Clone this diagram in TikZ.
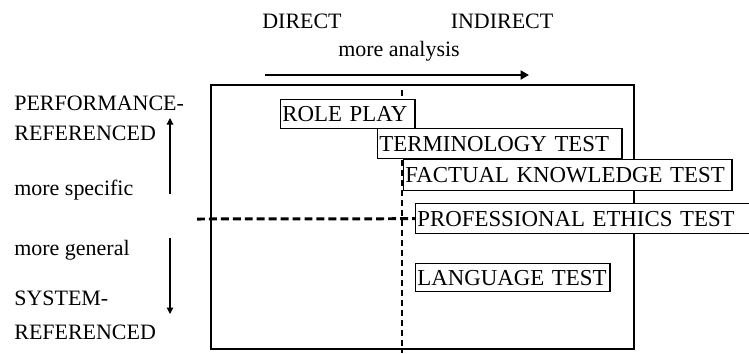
\documentclass[tikz,border=0pt]{standalone}
\usepackage{fontspec}
\setmainfont{Liberation Serif}
\usetikzlibrary{arrows.meta}

\newcommand{\labelfont}{\fontsize{12.5}{14}\selectfont}
\newcommand{\boxfont}{\fontsize{13}{15}\selectfont}

\tikzset{
    testbox/.style={draw, fill=white, line width=0.8pt, anchor=north west,
        inner xsep=1pt, inner ysep=0pt, align=left, font=\boxfont,
        text width=#1},
    sidelabel/.style={anchor=west, inner sep=0pt, font=\labelfont},
    toplabel/.style={inner sep=0pt, font=\labelfont}
}

\begin{document}
\begin{tikzpicture}[x=0.02cm, y=-0.02cm]
            \clip ( 0, 0 ) rectangle ( 749, 353 );

            % подписи сверху
            \node [toplabel] (direct) at ( 302, 21 ) {DIRECT};
            \node [toplabel] (indirect) at ( 502, 21 ) {INDIRECT};
            \node [toplabel] (analysis) at ( 399, 51 ) {more analysis};
            \coordinate (a1) at ( 265, 75 );
            \coordinate (a2) at ( 529, 75 );
            \draw [line width=1.6pt, -{Triangle[length=0.17cm, width=0.18cm]}] (a1) -- (a2);

            % подписи слева
            \node [sidelabel] (perf) at ( 14, 103 ) {PERFORMANCE-};
            \node [sidelabel] (perfref) at ( 14, 133 ) {REFERENCED};
            \node [sidelabel] (specific) at ( 14, 190 ) {more specific};
            \node [sidelabel] (general) at ( 14, 250 ) {more general};
            \node [sidelabel] (sys) at ( 14, 298 ) {SYSTEM-};
            \node [sidelabel] (sysref) at ( 14, 332 ) {REFERENCED};
            \coordinate (u1) at ( 170, 194 );
            \coordinate (u2) at ( 170, 118 );
            \coordinate (d1) at ( 170, 238 );
            \coordinate (d2) at ( 170, 314 );
            \draw [line width=0.7pt, -{Triangle[length=0.13cm, width=0.13cm]}] (u1) -- (u2);
            \draw [line width=0.7pt, -{Triangle[length=0.13cm, width=0.13cm]}] (d1) -- (d2);

            % рамка
            \draw [line width=0.8pt] ( 211, 85 ) rectangle ( 634, 349 );

            % штриховые линии
            \coordinate (v1) at ( 402, 90 );
            \coordinate (v2) at ( 402, 353 );
            \draw [line width=0.6pt, dash pattern=on 3.4pt off 2.3pt] (v1) -- (v2);
            \coordinate (h1) at ( 197, 219 );

            % тесты
            \node [testbox=2.62cm, minimum height=0.58cm] (roleplay) at ( 280, 99 ) {ROLE PLAY};
            \node [testbox=4.82cm, minimum height=0.6cm] (terminology) at ( 377, 128 ) {TERMINOLOGY TEST};
            \node [testbox=6.5cm, minimum height=0.62cm] (factual) at ( 403, 159 ) {FACTUAL KNOWLEDGE TEST};
            \node [testbox=6.9cm, minimum height=0.6cm] (ethics) at ( 415, 203 ) {PROFESSIONAL ETHICS TEST};
            \node [testbox=3.82cm, minimum height=0.56cm] (language) at ( 415, 263 ) {LANGUAGE TEST};

            \draw [line width=1.7pt, dash pattern=on 4.5pt off 2.3pt] (h1) -- (ethics.west);
        \end{tikzpicture}
\end{document}
